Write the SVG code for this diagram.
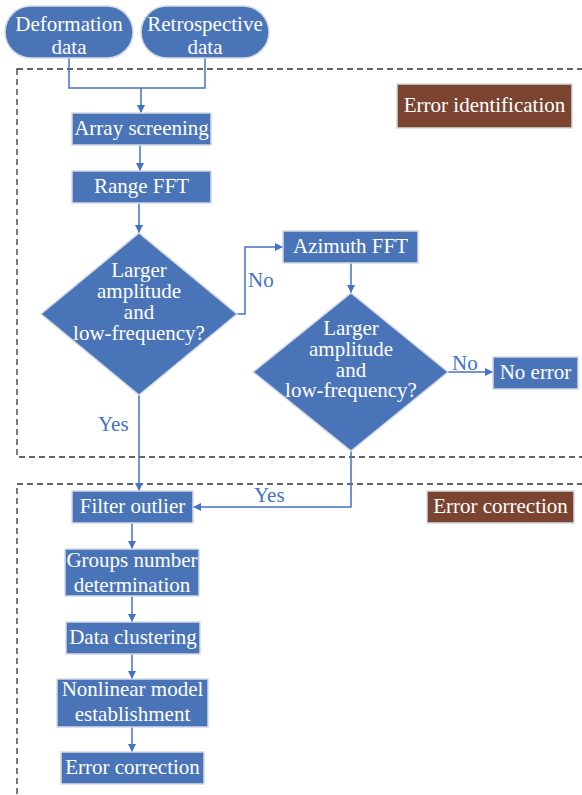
<svg xmlns="http://www.w3.org/2000/svg" width="582" height="795" viewBox="0 0 582 795">
<style>
.n{fill:#4a74b8;stroke:#d4d9e3;stroke-width:1.5}
.b{fill:#7a4430;stroke:#d4d9e3;stroke-width:1.5}
text{font-family:'Liberation Serif',Tinos,'Times New Roman','DejaVu Serif',serif;font-size:21px}
.t{fill:#fff;text-anchor:middle}
.l{fill:#4472c4}
.c{fill:none;stroke:#4472c4;stroke-width:1.5}
.d{fill:none;stroke:#333;stroke-width:1.3;stroke-dasharray:6 4}
</style>
<defs>
<marker id="a" viewBox="0 0 10 10" refX="10" refY="5" markerWidth="5.5" markerHeight="5.5" orient="auto" markerUnits="strokeWidth">
<path d="M0,0 L10,5 L0,10 z" fill="#4472c4"/>
</marker>
</defs>
<g id="regions">
<rect class="d" x="17" y="69" width="600" height="388"/>
<rect class="d" x="17" y="484" width="600" height="340"/>
</g>
<g id="connectors">
<path class="c" d="M69,58 V88 H205 V58"/>
<path class="c" d="M141,88 V113" marker-end="url(#a)"/>
<path class="c" d="M140,145 V171" marker-end="url(#a)"/>
<path class="c" d="M139,203 V233" marker-end="url(#a)"/>
<path class="c" d="M237,314 H245 V247 H283" marker-end="url(#a)"/>
<path class="c" d="M351,263 V293" marker-end="url(#a)"/>
<path class="c" d="M448,372 H493" marker-end="url(#a)"/>
<path class="c" d="M139,395 V491" marker-end="url(#a)"/>
<path class="c" d="M351,450 V507 H193" marker-end="url(#a)"/>
<path class="c" d="M132,523 V549" marker-end="url(#a)"/>
<path class="c" d="M132,596 V622" marker-end="url(#a)"/>
<path class="c" d="M132,654 V679" marker-end="url(#a)"/>
<path class="c" d="M132,727 V752" marker-end="url(#a)"/>
<text class="l" x="248" y="287">No</text>
<text class="l" x="452" y="370">No</text>
<text class="l" x="98" y="431">Yes</text>
<text class="l" x="254" y="502">Yes</text>
</g>
<g id="deformation">
<rect class="n" x="5" y="6" width="128" height="52" rx="26"/>
<text class="t" x="69" y="30.5">Deformation</text>
<text class="t" x="69" y="53.5">data</text>
</g>
<g id="retrospective">
<rect class="n" x="141" y="6" width="128" height="52" rx="26"/>
<text class="t" x="205" y="30.5">Retrospective</text>
<text class="t" x="205" y="53.5">data</text>
</g>
<g id="error-identification">
<rect class="b" x="397" y="84" width="175" height="44"/>
<text class="t" x="484.5" y="112">Error identification</text>
</g>
<g id="array-screening">
<rect class="n" x="72" y="113" width="139" height="32"/>
<text class="t" x="141.5" y="135">Array screening</text>
</g>
<g id="range-fft">
<rect class="n" x="72" y="171" width="139" height="32"/>
<text class="t" x="141.5" y="193">Range FFT</text>
</g>
<g id="decision1">
<polygon class="n" points="139,233 237,314 139,395 41,314" stroke="none"/>
<text class="t" x="139" y="277">Larger</text>
<text class="t" x="139" y="298">amplitude</text>
<text class="t" x="139" y="319">and</text>
<text class="t" x="139" y="340">low-frequency?</text>
</g>
<g id="azimuth-fft">
<rect class="n" x="283" y="231" width="135" height="32"/>
<text class="t" x="350.5" y="253">Azimuth FFT</text>
</g>
<g id="decision2">
<polygon class="n" points="351,293 448,372 351,451 253,372" stroke="none"/>
<text class="t" x="351" y="335">Larger</text>
<text class="t" x="351" y="356">amplitude</text>
<text class="t" x="351" y="377">and</text>
<text class="t" x="351" y="397">low-frequency?</text>
</g>
<g id="no-error">
<rect class="n" x="493" y="357" width="85" height="32"/>
<text class="t" x="535.5" y="379">No error</text>
</g>
<g id="error-correction-label">
<rect class="b" x="427" y="491" width="147" height="32"/>
<text class="t" x="500.5" y="513">Error correction</text>
</g>
<g id="filter-outlier">
<rect class="n" x="72" y="491" width="121" height="32"/>
<text class="t" x="132.5" y="513">Filter outlier</text>
</g>
<g id="groups-number">
<rect class="n" x="65" y="549" width="134" height="47"/>
<text class="t" x="132" y="567">Groups number</text>
<text class="t" x="132" y="592">determination</text>
</g>
<g id="data-clustering">
<rect class="n" x="66" y="622" width="134" height="32"/>
<text class="t" x="133" y="644">Data clustering</text>
</g>
<g id="nonlinear-model">
<rect class="n" x="57" y="679" width="151" height="48"/>
<text class="t" x="132.5" y="695.5">Nonlinear model</text>
<text class="t" x="132.5" y="720.5">establishment</text>
</g>
<g id="error-correction">
<rect class="n" x="61" y="752" width="143" height="32"/>
<text class="t" x="132.5" y="774">Error correction</text>
</g>
</svg>
